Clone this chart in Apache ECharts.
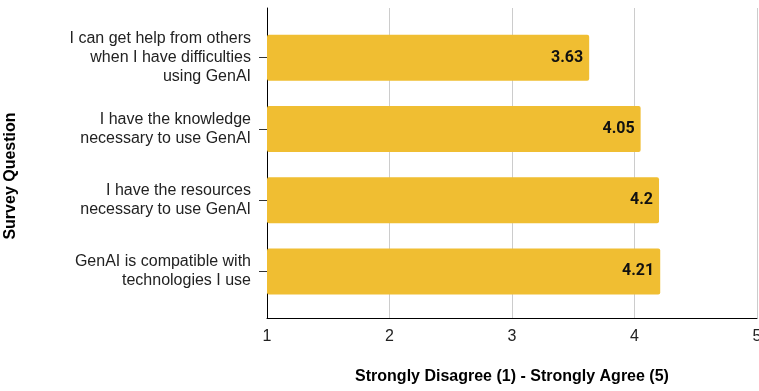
<!DOCTYPE html>
<html>
<head>
<meta charset="utf-8">
<script src="https://cdn.jsdelivr.net/npm/echarts@6/dist/echarts.min.js"></script>
<style>
  html, body { margin: 0; padding: 0; background: #fff; }
  #chart { width: 759px; height: 391px; }
</style>
</head>
<body>
<div id="chart"></div>
<script>
// survey questions, top to bottom
var questions = [
  "I can get help from others\nwhen I have difficulties\nusing GenAI",
  "I have the knowledge\nnecessary to use GenAI",
  "I have the resources\nnecessary to use GenAI",
  "GenAI is compatible with\ntechnologies I use"
];
var scores = [3.63, 4.05, 4.2, 4.21];
var xTicks = [1, 2, 3, 4, 5];

var chart = echarts.init(document.getElementById("chart"));

var option = {
  animation: false,
  grid: [
    // frame + vertical grid lines
    { left: 267, right: 2, top: 8, height: 310, outerBoundsMode: "none", containLabel: false },
    // bars
    { left: 267, right: 2, top: 22, height: 285, outerBoundsMode: "none", containLabel: false }
  ],
  graphic: [
    {
      type: "text",
      x: 11,
      y: 176,
      rotation: Math.PI / 2,
      style: {
        text: "Survey Question",
        font: "bold 16px 'Liberation Sans'",
        fill: "#000",
        align: "center",
        verticalAlign: "middle"
      }
    }
  ],
  xAxis: [
    {
      gridIndex: 0,
      type: "value",
      min: xTicks[0],
      max: xTicks[xTicks.length - 1],
      interval: 1,
      name: "Strongly Disagree (1) - Strongly Agree (5)",
      nameLocation: "middle",
      nameGap: 51,
      nameTextStyle: { fontFamily: "Liberation Sans", fontSize: 16, fontWeight: "bold", color: "#000" },
      axisLine: { show: true, lineStyle: { color: "#000", width: 1 } },
      axisTick: { show: false },
      axisLabel: { fontFamily: "Liberation Sans", fontSize: 16, color: "#222", margin: 11 },
      splitLine: { show: true, lineStyle: { color: "#cccccc", width: 1 } }
    },
    {
      gridIndex: 1,
      type: "value",
      min: xTicks[0],
      max: xTicks[xTicks.length - 1],
      show: false
    }
  ],
  yAxis: [
    {
      gridIndex: 0,
      type: "value",
      axisLine: { show: true, onZero: false, lineStyle: { color: "#000", width: 1 } },
      axisTick: { show: false },
      axisLabel: { show: false },
      splitLine: { show: false }
    },
    {
      gridIndex: 1,
      type: "category",
      inverse: true,
      data: questions,
      axisLine: { show: false },
      axisTick: { show: true, alignWithLabel: true, length: 8, lineStyle: { color: "#333" } },
      axisLabel: {
        fontFamily: "Liberation Sans", fontSize: 16, color: "#222",
        lineHeight: 19, margin: 16, align: "right"
      }
    },
    {
      // second copy only for the tick part inside the plot
      gridIndex: 1,
      type: "category",
      inverse: true,
      position: "left",
      data: questions,
      axisLine: { show: false },
      axisTick: { show: true, inside: true, alignWithLabel: true, length: 8, lineStyle: { color: "#333" } },
      axisLabel: { show: false }
    }
  ],
  series: [
    {
      type: "bar",
      xAxisIndex: 1,
      yAxisIndex: 1,
      data: scores,
      barWidth: 46,
      itemStyle: { color: "#f0be32", borderRadius: 2 },
      label: {
        show: true,
        position: "insideRight",
        distance: 6,
        fontFamily: "Roboto",
        fontSize: 16,
        fontWeight: "bold",
        color: "#111"
      }
    }
  ]
};

chart.setOption(option);
</script>
</body>
</html>
